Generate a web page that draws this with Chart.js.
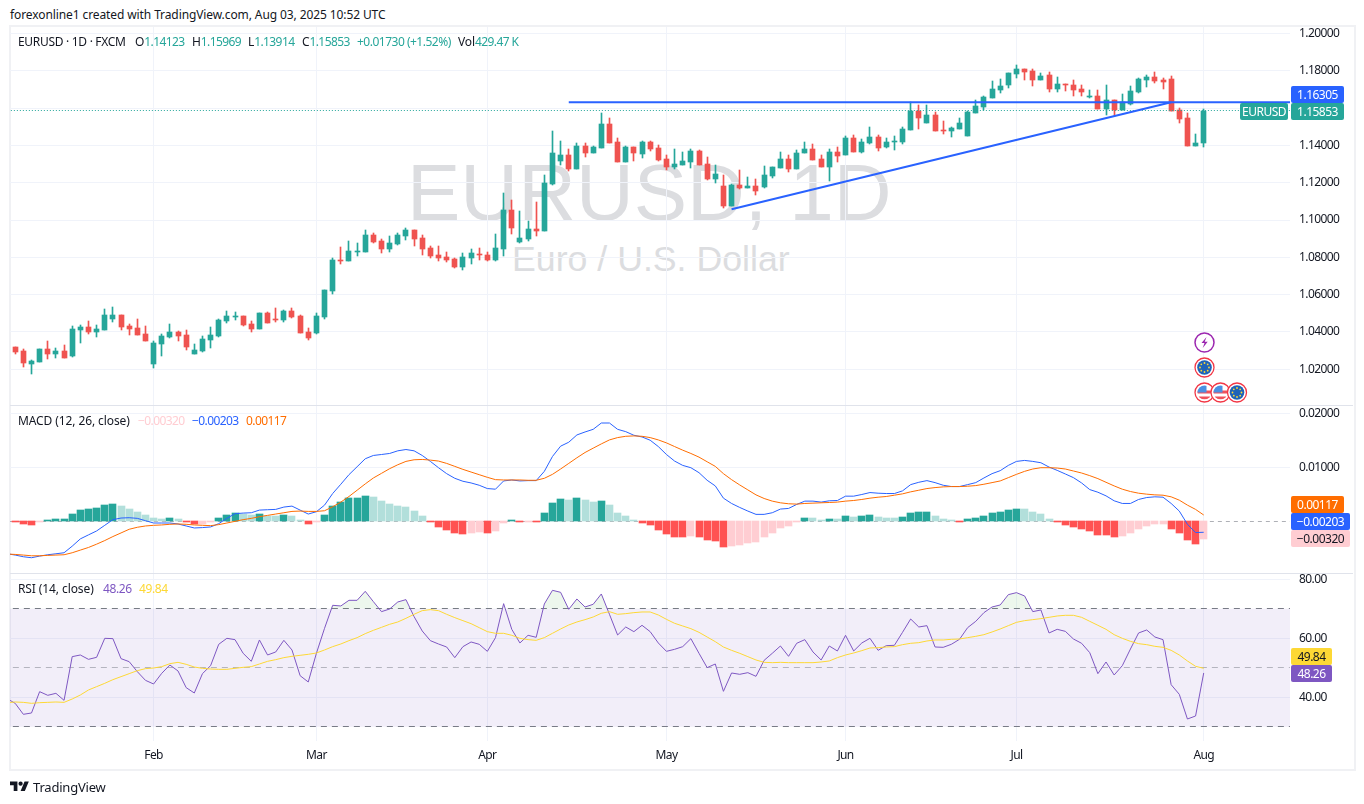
<!DOCTYPE html>
<html>
<head>
<meta charset="utf-8">
<title>EURUSD 1D</title>
<script src="https://cdn.jsdelivr.net/npm/chart.js@4/dist/chart.umd.min.js"></script>
<style>
  html, body { margin: 0; padding: 0; background: #fff; width: 1364px; height: 804px; overflow: hidden; }
  body, .t { font-family: "Noto Sans", sans-serif; font-size: 12px; color: #131722; }
  .t { position: absolute; white-space: nowrap; line-height: 16px; letter-spacing: -0.1px; }
  .n { letter-spacing: -0.6px; }
  canvas { position: absolute; left: 10px; }
  #frame { position: absolute; left: 9px; top: 25px; width: 1343px; height: 742px; border: 2px solid #f0f1f4; }
  .sep { position: absolute; left: 10px; width: 1343px; height: 1px; background: #e0e3eb; }
  .wm { position: absolute; font-family: "Liberation Sans", Arial, sans-serif; color: #dcdde0; white-space: nowrap; }
  .tag { position: absolute; height: 17px; line-height: 17px; color: #fff; text-align: center; border-radius: 2px; font-size: 12px; letter-spacing: -0.5px; }
  svg { position: absolute; }
</style>
</head>
<body>
<div class="t" style="left:10px;top:7px">forexonline1 created with TradingView.com, Aug 03, 2025 10:52 UTC</div>
<div id="frame"></div>

<div class="wm" style="left:407px;top:146px;font-size:80px;line-height:94px">EURUSD, 1D</div>
<div class="wm" style="left:512px;top:238px;font-size:35.7px;line-height:42px">Euro / U.S. Dollar</div>

<!-- canvases stick out 16px past each pane, that is the room Chart.js keeps for the y tick labels -->
<canvas id="pricePane" width="1343" height="410" style="top:11px"></canvas>
<canvas id="macdPane" width="1343" height="199" style="top:390px"></canvas>
<canvas id="rsiPane" width="1343" height="210" style="top:558px"></canvas>
<div class="sep" style="top:405px"></div>
<div class="sep" style="top:573px"></div>

<!-- legends -->
<div class="t" style="left:18px;top:34px;letter-spacing:-0.3px">EURUSD · 1D · FXCM</div>
<div class="t" style="left:135px;top:34px">O<span class="n" style="color:#26a69a">1.14123</span></div>
<div class="t" style="left:192px;top:34px">H<span class="n" style="color:#26a69a">1.15969</span></div>
<div class="t" style="left:248px;top:34px">L<span class="n" style="color:#26a69a">1.13914</span></div>
<div class="t" style="left:302px;top:34px">C<span class="n" style="color:#26a69a">1.15853</span></div>
<div class="t" style="left:357px;top:34px;color:#26a69a;letter-spacing:-0.5px">+0.01730 (+1.52%)</div>
<div class="t" style="left:458px;top:34px">Vol<span class="n" style="color:#26a69a">429.47 K</span></div>

<div class="t" style="left:18px;top:413px">MACD (12, 26, close)</div>
<div class="t n" style="left:138px;top:413px;color:#ffcdd2">−0.00320</div>
<div class="t n" style="left:192px;top:413px;color:#2962ff">−0.00203</div>
<div class="t n" style="left:246px;top:413px;color:#ff6d00">0.00117</div>

<div class="t" style="left:18px;top:581px">RSI (14, close)</div>
<div class="t" style="left:103px;top:581px;color:#7e57c2;letter-spacing:-0.4px">48.26</div>
<div class="t" style="left:139px;top:581px;color:#fdd835;letter-spacing:-0.4px">49.84</div>

<!-- price scale tags -->
<div class="tag" style="left:1291px;top:86px;width:53px;background:#2962ff">1.16305</div>
<div class="tag" style="left:1240px;top:103px;width:48px;background:#26a69a">EURUSD</div>
<div class="tag" style="left:1291px;top:103px;width:53px;background:#26a69a">1.15853</div>
<div class="tag" style="left:1291px;top:496px;width:53px;background:#ff6d00">0.00117</div>
<div class="tag" style="left:1291px;top:513px;width:59px;background:#2962ff">−0.00203</div>
<div class="tag" style="left:1291px;top:530px;width:59px;background:#ffcdd2;color:#131722">−0.00320</div>
<div class="tag" style="left:1291px;top:648px;width:41px;background:#fdd835;color:#131722">49.84</div>
<div class="tag" style="left:1291px;top:665px;width:41px;background:#7e57c2">48.26</div>

<!-- event markers -->
<svg width="1364" height="804" style="left:0;top:0;pointer-events:none">
  <defs>
    <clipPath id="c"><circle cx="0" cy="0" r="7"/></clipPath>
    <g id="eu"><circle r="9.5" fill="#fff" stroke="#f23645" stroke-width="1.3"/><circle r="7.3" fill="#1e63b8"/>
      <g fill="#fdd835"><circle cx="0" cy="-4.5" r=".9"/><circle cx="3.2" cy="-3.2" r=".9"/><circle cx="4.5" cy="0" r=".9"/><circle cx="3.2" cy="3.2" r=".9"/><circle cx="0" cy="4.5" r=".9"/><circle cx="-3.2" cy="3.2" r=".9"/><circle cx="-4.5" cy="0" r=".9"/><circle cx="-3.2" cy="-3.2" r=".9"/></g></g>
    <g id="us"><circle r="9.5" fill="#fff" stroke="#f23645" stroke-width="1.3"/>
      <g clip-path="url(#c)"><rect x="-8" y="-8" width="16" height="16" fill="#fff"/><rect x="-8" y="-2" width="16" height="3" fill="#f0515b"/><rect x="-8" y="4" width="16" height="3" fill="#f0515b"/><rect x="-8" y="-8" width="10" height="8" fill="#4a90e2"/></g></g>
  </defs>
  <circle cx="1204.5" cy="342.5" r="9.5" fill="#fff" stroke="#9c27b0" stroke-width="1.5"/>
  <path d="M1206.5 337l-5 6h3l-1.8 5 5-6.2h-3z" fill="#9c27b0"/>
  <use href="#eu" x="1204.5" y="367.5"/>
  <use href="#us" x="1204.5" y="392.5"/>
  <use href="#us" x="1220.5" y="392.5"/>
  <use href="#eu" x="1237" y="392.5"/>
  <g transform="translate(10 781) scale(.53)" fill="#131722"><path d="M14 19H7V8H0V1h14v18zM28 19h-8l7.5-18h8L28 19z"/><circle cx="20" cy="5" r="4"/></g>
</svg>
<div class="t" style="left:33px;top:779px;font-size:13px;letter-spacing:-0.2px">TradingView</div>

<script>
// === Chart data ===
const monthDays = [17, 37, 58, 80, 102, 123, 146];
const monthLabels = ["Feb", "Mar", "Apr", "May", "Jun", "Jul", "Aug"];
const priceTicks = [1.02, 1.04, 1.06, 1.08, 1.10, 1.12, 1.14, 1.16, 1.18, 1.20];
const macdTicks = [0.01, 0.02];
const rsiTicks = [40, 60, 80];

const opens = [1.0320,1.0298,1.0230,1.0239,1.0309,1.0282,1.0298,1.0272,1.0411,1.0427,
  1.0400,1.0411,1.0470,1.0491,1.0432,1.0422,1.0389,1.0229,1.0336,1.0373,
  1.0400,1.0384,1.0282,1.0298,1.0357,1.0379,1.0459,1.0480,1.0486,1.0443,
  1.0416,1.0502,1.0470,1.0464,1.0513,1.0486,1.0400,1.0395,1.0481,1.0620,
  1.0786,1.0781,1.0829,1.0829,1.0920,1.0888,1.0845,1.0872,1.0915,1.0947,
  1.0904,1.0850,1.0813,1.0802,1.0791,1.0748,1.0797,1.0818,1.0813,1.0786,
  1.0845,1.1053,1.0883,1.0899,1.0952,1.0941,1.1193,1.1316,1.1348,1.1273,
  1.1397,1.1359,1.1386,1.1515,1.1418,1.1311,1.1391,1.1354,1.1418,1.1386,
  1.1327,1.1284,1.1295,1.1311,1.1370,1.1300,1.1220,1.1182,1.1075,1.1188,
  1.1172,1.1182,1.1177,1.1236,1.1279,1.1327,1.1273,1.1359,1.1381,1.1327,
  1.1284,1.1365,1.1348,1.1440,1.1365,1.1413,1.1445,1.1391,1.1418,1.1418,
  1.1482,1.1584,1.1520,1.1563,1.1482,1.1477,1.1488,1.1450,1.1574,1.1606,
  1.1654,1.1697,1.1724,1.1783,1.1809,1.1799,1.1750,1.1777,1.1702,1.1729,
  1.1724,1.1702,1.1659,1.1665,1.1595,1.1643,1.1590,1.1622,1.1686,1.1750,
  1.1766,1.1750,1.1756,1.1590,1.1547,1.1397,1.14123];
const highs = [1.0320,1.0309,1.0250,1.0309,1.0352,1.0314,1.0330,1.0432,1.0438,1.0459,
  1.0438,1.0523,1.0534,1.0491,1.0443,1.0470,1.0432,1.0352,1.0389,1.0443,
  1.0405,1.0411,1.0336,1.0379,1.0427,1.0470,1.0513,1.0507,1.0486,1.0459,
  1.0502,1.0507,1.0529,1.0518,1.0529,1.0491,1.0422,1.0502,1.0626,1.0797,
  1.0855,1.0888,1.0877,1.0947,1.0931,1.0899,1.0915,1.0931,1.0957,1.0947,
  1.0920,1.0861,1.0861,1.0829,1.0797,1.0823,1.0845,1.0850,1.0829,1.0925,
  1.1145,1.1107,1.1048,1.0995,1.1097,1.1241,1.1477,1.1424,1.1381,1.1413,
  1.1413,1.1397,1.1574,1.1547,1.1440,1.1397,1.1391,1.1424,1.1424,1.1402,
  1.1348,1.1381,1.1365,1.1381,1.1375,1.1338,1.1295,1.1241,1.1193,1.1268,
  1.1231,1.1220,1.1290,1.1284,1.1365,1.1348,1.1375,1.1418,1.1407,1.1348,
  1.1381,1.1391,1.1450,1.1456,1.1434,1.1499,1.1456,1.1440,1.1450,1.1499,
  1.1632,1.1616,1.1616,1.1579,1.1531,1.1499,1.1547,1.1584,1.1643,1.1665,
  1.1745,1.1756,1.1788,1.1831,1.1809,1.1809,1.1788,1.1793,1.1766,1.1729,
  1.1750,1.1724,1.1697,1.1697,1.1724,1.1643,1.1675,1.1718,1.1761,1.1777,
  1.1793,1.1761,1.1772,1.1600,1.1574,1.1461,1.15969];
const lows = [1.0284,1.0214,1.0175,1.0239,1.0255,1.0261,1.0261,1.0266,1.0341,1.0389,
  1.0373,1.0411,1.0454,1.0411,1.0384,1.0384,1.0352,1.0207,1.0272,1.0368,
  1.0352,1.0304,1.0282,1.0293,1.0314,1.0373,1.0448,1.0464,1.0432,1.0400,
  1.0416,1.0448,1.0454,1.0454,1.0475,1.0395,1.0357,1.0389,1.0470,1.0604,
  1.0764,1.0781,1.0807,1.0829,1.0877,1.0823,1.0829,1.0866,1.0893,1.0861,
  1.0813,1.0797,1.0781,1.0775,1.0743,1.0732,1.0764,1.0786,1.0781,1.0781,
  1.0807,1.0925,1.0877,1.0888,1.0915,1.0941,1.1188,1.1295,1.1263,1.1273,
  1.1338,1.1359,1.1386,1.1413,1.1311,1.1311,1.1316,1.1332,1.1370,1.1316,
  1.1268,1.1273,1.1295,1.1279,1.1295,1.1215,1.1198,1.1064,1.1075,1.1166,
  1.1172,1.1134,1.1172,1.1225,1.1279,1.1257,1.1273,1.1359,1.1322,1.1284,
  1.1209,1.1311,1.1348,1.1365,1.1359,1.1407,1.1370,1.1386,1.1375,1.1407,
  1.1482,1.1488,1.1520,1.1477,1.1461,1.1445,1.1488,1.1450,1.1574,1.1590,
  1.1654,1.1681,1.1708,1.1761,1.1750,1.1718,1.1750,1.1686,1.1686,1.1691,
  1.1665,1.1665,1.1654,1.1595,1.1563,1.1558,1.1590,1.1616,1.1681,1.1713,
  1.1734,1.1702,1.1584,1.1520,1.1397,1.1397,1.13914];
const closes = [1.0293,1.0234,1.0245,1.0309,1.0282,1.0298,1.0261,1.0416,1.0427,1.0400,
  1.0416,1.0491,1.0491,1.0427,1.0416,1.0384,1.0352,1.0341,1.0379,1.0400,
  1.0379,1.0320,1.0304,1.0363,1.0384,1.0464,1.0486,1.0486,1.0438,1.0416,
  1.0502,1.0448,1.0464,1.0513,1.0481,1.0395,1.0368,1.0486,1.0626,1.0786,
  1.0781,1.0834,1.0834,1.0920,1.0883,1.0845,1.0877,1.0920,1.0947,1.0899,
  1.0845,1.0807,1.0797,1.0786,1.0748,1.0802,1.0823,1.0813,1.0786,1.0850,
  1.1053,1.0957,1.0904,1.0952,1.0941,1.1198,1.1359,1.1348,1.1273,1.1397,
  1.1359,1.1391,1.1515,1.1413,1.1311,1.1391,1.1359,1.1418,1.1381,1.1322,
  1.1284,1.1300,1.1316,1.1370,1.1295,1.1220,1.1247,1.1075,1.1188,1.1172,
  1.1182,1.1156,1.1241,1.1284,1.1327,1.1273,1.1359,1.1381,1.1322,1.1284,
  1.1365,1.1343,1.1440,1.1365,1.1418,1.1445,1.1386,1.1418,1.1424,1.1488,
  1.1584,1.1547,1.1563,1.1477,1.1477,1.1493,1.1520,1.1579,1.1611,1.1659,
  1.1702,1.1718,1.1788,1.1809,1.1793,1.1750,1.1772,1.1702,1.1729,1.1724,
  1.1697,1.1686,1.1665,1.1595,1.1643,1.1590,1.1632,1.1691,1.1756,1.1766,
  1.1745,1.1740,1.1584,1.1541,1.1397,1.1413,1.15853];

const macdHist = [-.0001,-.0005,-.0007,-.0001,.00025,.0004,.00042,.0013,.0021,.0023,
  .0025,.0030,.0032,.0028,.0023,.0017,.0012,.0006,.0004,.0006,
  .0004,-.0001,-.0005,-.00045,-.00005,.0006,.0012,.0015,.0014,.0012,
  .0013,.0010,.00095,.0012,.0010,.00025,-.0005,-.0001,.0012,.0028,
  .0036,.0043,.00432,.0047,.0045,.0037,.0032,.0028,.0026,.0019,
  .0010,-.0001,-.0010,-.0016,-.0021,-.0023,-.0021,-.00205,-.0021,-.0018,
  -.0003,.00025,-.0001,-.00008,-.0001,.0015,.0034,.0041,.0039,.0043,
  .0039,.0036,.0037,.0030,.0015,.0010,.00025,-.0003,-.0007,-.0016,
  -.0023,-.0029,-.00295,-.0027,-.0029,-.0034,-.0036,-.0047,-.0045,-.0044,
  -.0040,-.0038,-.0029,-.0021,-.0012,-.0009,-.0001,.0006,.00055,.00025,
  .0004,.00035,.0010,.0008,.0010,.0012,.0008,.0006,.00055,.0008,
  .0015,.0017,.00175,.0010,.0004,.00025,-.00005,.0004,.0006,.0010,
  .0015,.0017,.0021,.0023,.00225,.0017,.0013,.0004,-.0001,-.0007,
  -.0010,-.0014,-.0018,-.0025,-.00255,-.0029,-.0027,-.0021,-.0014,-.0009,
  -.0005,-.00045,-.0014,-.0021,-.0034,-.0042,-.0032];
// line series carry one extra leading day, it runs off the left edge of the panes
const macdLine = [-.00600,-.00625,-.00656,-.00674,-.00644,-.00619,-.00601,-.00582,-.00460,-.00325,-.00251,
  -.00178,-.00074,.00031,.00061,.00067,.00055,.00012,-.00031,-.00031,-.00031,
  -.00049,-.00086,-.00123,-.00116,-.00104,-.00043,.00055,.00141,.00153,.00159,
  .00208,.00215,.00221,.00264,.00282,.00208,.00135,.00178,.00300,.00515,
  .00687,.00864,.01011,.01159,.01220,.01238,.01257,.01306,.01330,.01306,
  .01220,.01110,.00993,.00883,.00797,.00742,.00711,.00668,.00607,.00595,
  .00748,.00766,.00748,.00754,.00754,.00926,.01201,.01392,.01465,.01600,
  .01655,.01704,.01821,.01821,.01704,.01661,.01594,.01563,.01502,.01385,
  .01238,.01116,.01036,.00993,.00901,.00760,.00656,.00429,.00331,.00257,
  .00190,.00129,.00129,.00159,.00227,.00239,.00313,.00374,.00374,.00356,
  .00380,.00386,.00466,.00466,.00497,.00533,.00521,.00515,.00515,.00564,
  .00680,.00723,.00754,.00717,.00668,.00644,.00644,.00680,.00717,.00803,
  .00883,.00938,.01036,.01110,.01128,.01110,.01085,.01005,.00944,.00877,
  .00809,.00711,.00588,.00539,.00472,.00380,.00331,.00331,.00405,.00441,
  .00454,.00447,.00331,.00190,-.00055,-.00208,-.00203];
const macdSignal = [-.00607,-.00613,-.00625,-.00638,-.00638,-.00631,-.00625,-.00619,-.00582,-.00533,-.00484,
  -.00423,-.00356,-.00282,-.00215,-.00147,-.00110,-.00086,-.00074,-.00067,-.00055,
  -.00049,-.00055,-.00067,-.00074,-.00080,-.00061,-.00031,0,.00031,.00055,
  .00086,.00110,.00135,.00159,.00184,.00190,.00184,.00184,.00196,.00270,
  .00356,.00460,.00576,.00693,.00803,.00889,.00975,.01048,.01110,.01140,
  .01146,.01134,.01116,.01073,.01018,.00962,.00913,.00864,.00815,.00772,
  .00766,.00766,.00766,.00760,.00760,.00797,.00870,.00969,.01073,.01177,
  .01275,.01355,.01434,.01508,.01551,.01575,.01582,.01575,.01551,.01508,
  .01453,.01385,.01318,.01257,.01189,.01103,.01018,.00883,.00772,.00674,
  .00582,.00490,.00423,.00374,.00343,.00325,.00319,.00331,.00337,.00343,
  .00349,.00356,.00374,.00386,.00405,.00429,.00447,.00460,.00484,.00509,
  .00546,.00576,.00607,.00625,.00638,.00644,.00644,.00650,.00662,.00687,
  .00717,.00748,.00809,.00870,.00926,.00969,.00993,.00993,.00987,.00969,
  .00932,.00895,.00846,.00791,.00723,.00656,.00595,.00552,.00521,.00503,
  .00490,.00484,.00454,.00392,.00300,.00221,.00117];
const rsiLine = [39.55,37.96,34.24,34.69,41.92,40.68,41.36,38.98,53.79,54.35,52.88,
  53.56,60.00,59.89,53.11,52.09,48.70,45.76,44.52,48.14,50.96,
  48.93,43.28,41.47,48.02,50.73,57.97,60.00,59.55,54.92,52.20,
  59.44,54.35,55.37,59.32,56.05,47.34,45.20,54.92,63.39,71.19,
  70.96,72.88,72.88,75.93,72.43,69.04,69.94,72.32,73.11,67.35,
  62.49,59.21,58.08,57.06,53.45,57.18,58.76,57.97,55.59,60.23,
  71.75,63.05,58.42,61.02,60.34,71.64,76.27,75.59,69.83,73.33,
  70.62,71.53,75.03,68.14,61.13,63.84,62.26,64.41,62.26,58.42,
  55.59,56.27,57.18,59.89,54.92,50.06,51.30,42.03,48.25,47.80,
  48.36,47.12,52.54,54.92,57.40,53.90,58.31,59.55,55.37,52.66,
  57.40,55.71,61.02,55.71,58.42,60.00,55.93,57.51,57.63,62.03,
  66.55,63.84,64.29,57.06,56.95,57.97,59.66,63.62,65.76,68.70,
  70.62,71.30,74.80,75.48,74.35,69.04,69.61,61.81,63.05,62.37,
  59.77,58.31,55.14,48.02,51.98,47.57,50.73,56.38,61.81,62.83,
  60.45,59.55,44.29,41.02,32.65,33.67,48.26];
const rsiMa = [38.19,38.42,38.30,37.97,38.19,38.30,38.42,38.30,39.43,40.79,42.49,
  43.62,44.75,45.99,47.01,48.02,49.04,49.72,49.94,50.40,51.41,
  51.86,51.19,50.28,49.83,49.60,49.49,49.49,49.83,50.17,50.40,
  51.30,52.20,52.77,53.45,53.90,54.24,54.58,55.03,56.05,57.18,
  58.08,59.21,60.23,61.58,62.71,63.73,64.75,65.54,66.78,68.14,
  69.38,69.72,69.38,68.14,67.01,65.99,64.97,63.62,62.26,61.70,
  61.70,61.02,60.00,59.55,59.32,60.23,61.70,63.16,64.52,65.54,
  66.33,67.23,68.48,69.04,68.14,68.36,68.70,68.93,68.93,67.91,
  66.44,65.09,64.18,63.28,62.03,60.45,58.87,57.06,55.93,54.92,
  53.79,52.66,51.86,51.75,51.86,51.75,51.75,51.75,51.75,51.98,
  52.32,53.45,54.35,55.03,55.82,56.72,56.84,57.06,57.18,57.85,
  58.31,58.53,59.10,59.44,59.44,59.66,59.77,60.23,60.68,61.24,
  62.15,63.16,64.29,65.42,65.99,66.33,66.67,67.12,67.57,67.80,
  67.80,67.12,65.76,64.41,63.05,61.24,60.00,58.98,58.19,57.85,
  57.29,56.95,55.93,54.35,52.32,50.51,49.84];

const lastPrice = 1.15853;
const resistance = { fromDay: 68, toDay: 157, price: 1.16305 };
const trendDays = [88, 142];
const trendPrices = [1.10573, 1.16305];
const rsiLevels = { upper: 70, middle: 50, lower: 30 };

// === Colours and shared options ===
const UP = "#26a69a", DOWN = "#ef5350";
const GRID = "#f0f3fa", FONT = '"Noto Sans", sans-serif';
const X_MIN = -0.64, X_MAX = 156.6;

const toPoints = (values) => values.map((y, i) => ({ x: i, y }));
const toLinePoints = (values) => values.map((y, i) => ({ x: i - 1, y }));
const flatLine = (y) => [{ x: X_MIN - 1, y }, { x: X_MAX + 1, y }];

function xAxis(height) {
  return {
    type: "linear", min: X_MIN, max: X_MAX, offset: false,
    grid: { color: GRID, drawTicks: false, offset: false },
    border: { display: false },
    ticks: {
      display: height > 0, color: "#131722", padding: 8, font: { family: FONT, size: 12, lineHeight: 14 / 12 },
      autoSkip: false, maxRotation: 0,
      callback: (v) => monthLabels[monthDays.indexOf(v)]
    },
    afterBuildTicks: (s) => { s.ticks = monthDays.map((value) => ({ value })); },
    afterFit: (s) => { s.height = height; }
  };
}

function yAxis(min, max, ticks, digits) {
  return {
    position: "right", min, max,
    grid: { color: GRID, drawTicks: false },
    border: { display: false },
    ticks: {
      color: "#131722", padding: 9, font: { family: FONT, size: 12, lineHeight: 14 / 12 },
      callback: (v) => (v === 1.16 ? "" : v.toFixed(digits))
    },
    afterBuildTicks: (s) => { s.ticks = ticks.map((value) => ({ value })); },
    afterFit: (s) => { s.width = 63; }
  };
}

// snap bars and dashed level lines to whole pixels, like the original canvas does
const snapPixels = {
  id: "snapPixels",
  beforeDatasetsDraw(chart) {
    chart.getSortedVisibleDatasetMetas().forEach((meta) => {
      if (meta.type === "bar") {
        meta.data.forEach((bar) => {
          bar.x = Math.floor(bar.x) + 0.5;
          const top = Math.round(Math.min(bar.y, bar.base));
          const bottom = Math.round(Math.max(bar.y, bar.base));
          bar.y = top;
          bar.base = Math.max(bottom, top + 1);
        });
      } else if (meta.controller.getDataset().level) {
        meta.data.forEach((pt) => { pt.y = Math.floor(pt.y) + 0.5; });
      }
    });
  }
};

// axis numbers run a bit narrower in the original font
const tightText = {
  id: "tightText",
  beforeDraw(chart) { chart.ctx.letterSpacing = "-0.6px"; }
};

const baseOptions = {
  responsive: false, animation: false, devicePixelRatio: 1, events: [],
  layout: { autoPadding: false, padding: 0 },
  plugins: { legend: { display: false }, tooltip: { enabled: false } },
  elements: { point: { radius: 0 }, line: { borderWidth: 1, tension: 0 } }
};

// === Price pane ===
const candleColor = (ctx) => (closes[ctx.dataIndex] >= opens[ctx.dataIndex] ? UP : DOWN);
new Chart(document.getElementById("pricePane"), {
  type: "bar",
  plugins: [snapPixels, tightText],
  data: {
    datasets: [
      { type: "line", order: 0, data: [{ x: resistance.fromDay, y: resistance.price }, { x: resistance.toDay, y: resistance.price }], borderColor: "#2962ff", borderWidth: 2 },
      { type: "line", order: 0, data: [{ x: trendDays[0], y: trendPrices[0] }, { x: trendDays[1], y: trendPrices[1] }], borderColor: "#2962ff", borderWidth: 2 },
      { type: "line", order: 1, level: true, data: flatLine(lastPrice), borderColor: UP, borderDash: [1, 2] },
      { order: 2, grouped: false, barThickness: 5, data: opens.map((o, i) => ({ x: i, y: [o, closes[i]] })), backgroundColor: candleColor },
      { order: 3, grouped: false, barThickness: 1, data: lows.map((l, i) => ({ x: i, y: [l, highs[i]] })), backgroundColor: candleColor }
    ]
  },
  options: { ...baseOptions, scales: { x: xAxis(0), y: yAxis(1.00089, 1.2034, priceTicks, 5) } }
});

// === MACD pane ===
function histColor(ctx) {
  const v = macdHist[ctx.dataIndex];
  const prev = ctx.dataIndex > 0 ? macdHist[ctx.dataIndex - 1] : 0;
  if (v >= 0) return v >= prev ? UP : "#b2dfdb";
  return v < prev ? "#ff5252" : "#ffcdd2";
}
new Chart(document.getElementById("macdPane"), {
  type: "bar",
  plugins: [snapPixels, tightText],
  data: {
    datasets: [
      { type: "line", order: 0, data: toLinePoints(macdSignal), borderColor: "#ff6d00" },
      { type: "line", order: 1, data: toLinePoints(macdLine), borderColor: "#2962ff" },
      { order: 2, grouped: false, barThickness: 7, data: toPoints(macdHist), backgroundColor: histColor },
      { type: "line", order: 3, level: true, data: flatLine(0), borderColor: "rgba(120,123,134,0.6)", borderDash: [4, 4] }
    ]
  },
  options: { ...baseOptions, scales: { x: xAxis(0), y: yAxis(-0.00957, 0.02136, macdTicks, 5) } }
});

// === RSI pane ===
new Chart(document.getElementById("rsiPane"), {
  type: "line",
  plugins: [snapPixels, tightText],
  data: {
    datasets: [
      { order: 0, data: toLinePoints(rsiMa), borderColor: "#fdd835" },
      { order: 1, data: toLinePoints(rsiLine), borderColor: "#7e57c2",
        fill: { target: { value: rsiLevels.upper }, above: "rgba(76,175,80,0.10)", below: "transparent" } },
      { order: 2, level: true, data: flatLine(rsiLevels.upper), borderColor: "#787b86", borderDash: [6, 5] },
      { order: 2, level: true, data: flatLine(rsiLevels.middle), borderColor: "rgba(120,123,134,0.5)", borderDash: [6, 5] },
      { order: 2, level: true, data: flatLine(rsiLevels.lower), borderColor: "#787b86", borderDash: [6, 5] },
      { order: 3, data: flatLine(rsiLevels.upper), borderWidth: 0, fill: { value: rsiLevels.lower }, backgroundColor: "rgba(126,87,194,0.1)" }
    ]
  },
  options: { ...baseOptions, scales: { x: xAxis(27), y: yAxis(25.2, 81.8, rsiTicks, 2) } }
});
</script>
</body>
</html>
